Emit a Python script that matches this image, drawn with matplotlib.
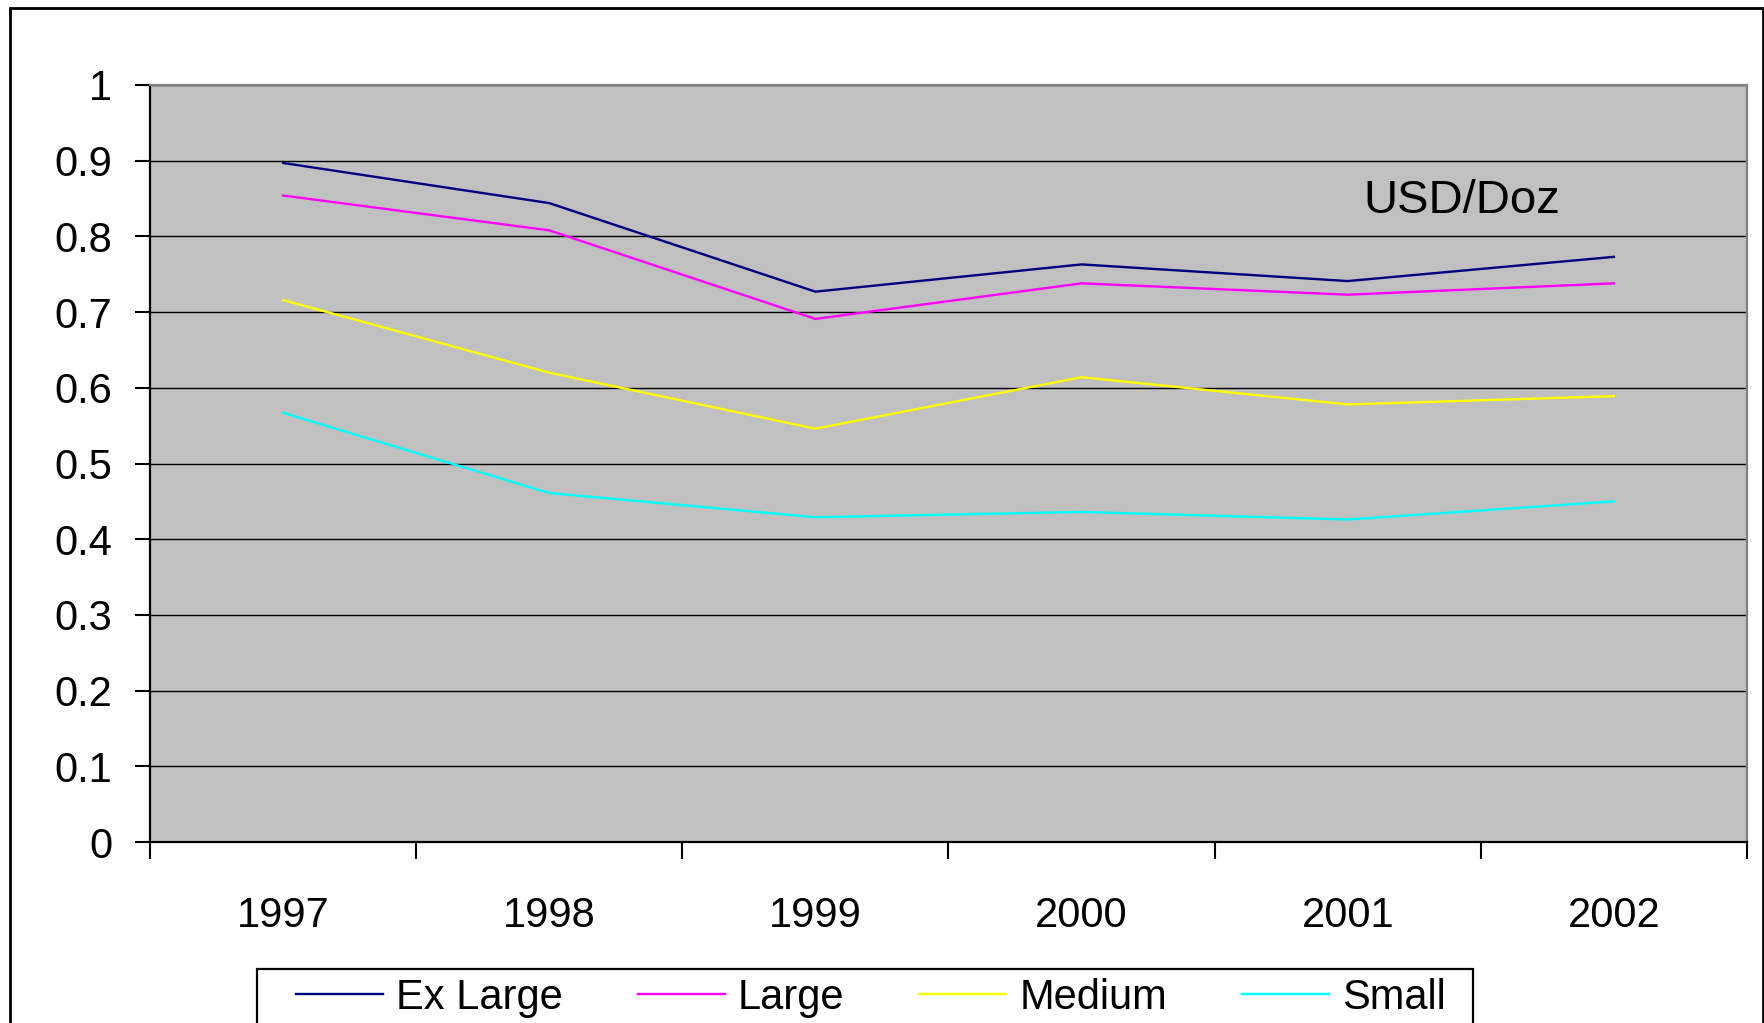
import matplotlib.pyplot as plt
from matplotlib.patches import Rectangle

plt.rcParams["font.family"] = ["Liberation Sans", "DejaVu Sans"]

years = ["1997", "1998", "1999", "2000", "2001", "2002"]
ex_large = [0.897, 0.844, 0.727, 0.763, 0.741, 0.773]
large = [0.854, 0.808, 0.691, 0.738, 0.723, 0.738]
medium = [0.716, 0.620, 0.546, 0.614, 0.578, 0.589]
small = [0.567, 0.461, 0.429, 0.436, 0.426, 0.450]

series = [
    ("Ex Large", ex_large, "#000080"),
    ("Large", large, "#ff00ff"),
    ("Medium", medium, "#ffff00"),
    ("Small", small, "#00ffff"),
]

W, H = 1765, 1023
top, bottom = 85, 842
fig = plt.figure(figsize=(W / 100, H / 100), dpi=100)
ax = fig.add_axes([150 / W, 1 - bottom / H, (1747 - 150) / W, (bottom - top) / H])
ax.set_facecolor("#c0c0c0")

x = list(range(len(years)))
for name, vals, col in series:
    ax.plot(x, vals, color=col, lw=1.7, label=name, zorder=3)

ax.set_xlim(-0.5, len(years) - 0.5)
ax.set_ylim(0, 1)
ax.set_yticks([i / 10 for i in range(11)])
ax.set_yticklabels(["0", "0.1", "0.2", "0.3", "0.4", "0.5", "0.6", "0.7", "0.8", "0.9", "1"])
ax.grid(axis="y", color="black", lw=1.0, zorder=1)
ax.set_axisbelow(True)

# category boundaries carry the tick marks, labels sit in the middle
ax.set_xticks([i - 0.5 for i in range(len(years) + 1)])
ax.set_xticklabels([])
ax.set_xticks(x, minor=True)
ax.set_xticklabels(years, minor=True)
ax.tick_params(axis="x", which="major", length=12, width=1.5, color="black", direction="out")
ax.tick_params(axis="x", which="minor", length=0, pad=39, labelsize=30)
ax.tick_params(axis="y", length=11, width=1.5, color="black", direction="out", pad=16, labelsize=30)

ax.spines["left"].set_color("black")
ax.spines["bottom"].set_color("black")
ax.spines["left"].set_linewidth(1.6)
ax.spines["bottom"].set_linewidth(1.6)
ax.spines["top"].set_color("#808080")
ax.spines["right"].set_color("#808080")
ax.spines["top"].set_linewidth(1.6)
ax.spines["right"].set_linewidth(1.6)

ax.text((1363 - 150) / (1747 - 150), (bottom - 213) / (bottom - top), "USD/Doz",
        transform=ax.transAxes, fontsize=34, va="baseline", ha="left")

# outer chart border and legend box
fig.patches.append(Rectangle((10 / W, -0.1), (1763 - 10) / W, 1.1 - 8.5 / H,
                             transform=fig.transFigure, fill=False,
                             edgecolor="black", lw=2.0, clip_on=False))
fig.patches.append(Rectangle((257 / W, -0.1), (1473 - 257) / W, 1.1 - 969 / H,
                             transform=fig.transFigure, fill=False,
                             edgecolor="black", lw=1.6, clip_on=False))

fig.legend(loc="center left", bbox_to_anchor=(296 / W, 1 - 998 / H), ncol=4,
           frameon=False, fontsize=30, borderpad=0, borderaxespad=0,
           handlelength=2.09, handletextpad=0.31, columnspacing=1.8)

fig.savefig("out.png", dpi=100, facecolor="white")
